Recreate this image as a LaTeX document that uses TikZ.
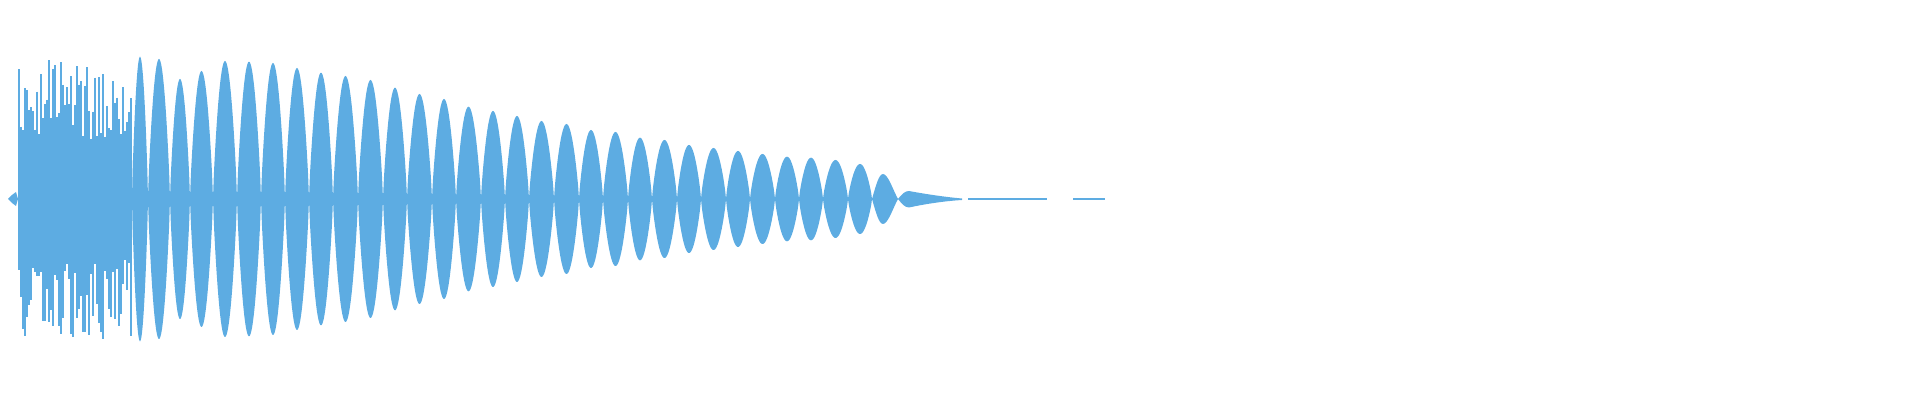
\documentclass[tikz,border=0pt]{standalone}
\definecolor{wave}{HTML}{5DACE2}
\begin{document}
\begin{tikzpicture}[x=0.5pt,y=-0.5pt,wv/.style={fill=wave,draw=none},bar/.style={draw=wave,line width=1.1pt}]
\useasboundingbox (0,0) rectangle (1920,400);
% onset
\fill[wave] (8,199) -- (12,195) -- (16,192) -- (18,199) -- (16,206) -- (12,203) -- cycle;
% noisy early section
\fill[wave] (18,155) -- (132,160) -- (132,240) -- (18,245) -- cycle;
\pgfmathsetseed{7}
\foreach \x in {19,21,...,131}{
  \pgfmathsetmacro{\h}{60+80*rnd}
  \pgfmathsetmacro{\g}{60+80*rnd}
  \draw[bar] (\x,199-\h) -- (\x,199+\g);
}
% lobes
\foreach \a/\b/\t in {132/148/56.7,148/170/59,170/190/79,190/213/71,213/237/61,237/261/61.7,261/285/63,285/309/68,309/333/72.7,333/358/76,358/383/80,383/407/87.7,407/432/94,432/456/99,456/481/106.7,481/505/111,505/529/116,529/554/121,554/579/124,579/603/130,603/628/132,628/652/137.7,652/677/140,677/701/145,701/726/148,726/750/151,750/775/154,775/799/156.7,799/823/157.7,823/848/160,848/872/164}{
  \pgfmathsetmacro{\A}{199-\t}
  \fill[wave] plot[domain=0:180,samples=31,smooth] ({\a+(\b-\a)*\x/180},{199-\A*(sin(\x))^0.8})
     -- plot[domain=180:0,samples=31,smooth] ({\a+(\b-\a)*\x/180},{199+\A*(sin(\x))^0.8}) -- cycle;
}
% last asymmetric lobe
\fill[wave] (872,199) .. controls (876,185) and (879,174) .. (883,174) .. controls (888,174) and (893,190) .. (898,199)
  .. controls (893,208) and (888,224) .. (883,224) .. controls (879,224) and (876,213) .. (872,199) -- cycle;
% tail bump
\fill[wave] (898,199) .. controls (902,194) and (905,191) .. (909,191) .. controls (925,194) and (945,197) .. (962,198.5)
  -- (962,200) .. controls (945,201) and (925,204) .. (909,207.5) .. controls (905,207.5) and (902,204) .. (898,199) -- cycle;
\fill[wave] (968,198.3) rectangle (1047,200.3);
\fill[wave] (1073,198.4) rectangle (1105,200);
\end{tikzpicture}
\end{document}
